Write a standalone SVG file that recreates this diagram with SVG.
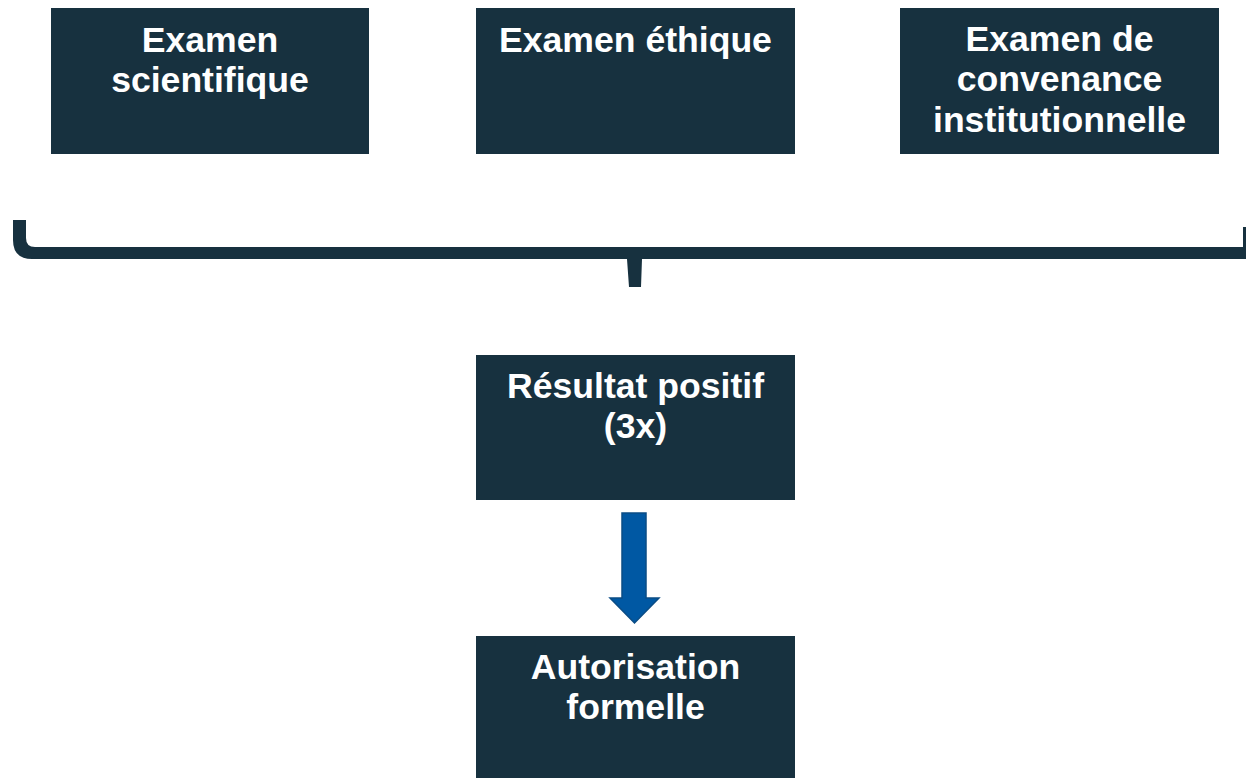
<svg xmlns="http://www.w3.org/2000/svg" width="1246" height="778" viewBox="0 0 1246 778">
<style>
.box{fill:#17313F}
.t{fill:#ffffff;font-family:"Liberation Sans",Arial,sans-serif;font-weight:bold;font-size:35.6px;text-anchor:middle}
</style>
<rect width="1246" height="778" fill="#ffffff"/>
<g id="n1"><rect class="box" x="51" y="8" width="318" height="146"/><text class="t" x="210" y="52">Examen</text><text class="t" x="210" y="92">scientifique</text></g>
<g id="n2"><rect class="box" x="476" y="8" width="319" height="146"/><text class="t" x="635.5" y="52">Examen éthique</text></g>
<g id="n3"><rect class="box" x="900" y="8" width="319" height="146"/><text class="t" x="1059.5" y="51">Examen de</text><text class="t" x="1059.5" y="91">convenance</text><text class="t" x="1059.5" y="132">institutionnelle</text></g>
<g id="n4"><rect class="box" x="476" y="355" width="319" height="145"/><text class="t" x="635.5" y="398">Résultat positif</text><text class="t" x="635.5" y="438">(3x)</text></g>
<g id="n5"><rect class="box" x="476" y="636" width="319" height="142"/><text class="t" x="635.5" y="679">Autorisation</text><text class="t" x="635.5" y="719">formelle</text></g>
<g id="connectors">
<path id="brace" fill="#17313F" d="M13,220 H26 V238 Q26,247 35,247 H1243 V227 H1246 V259 H642 L641,287 H629 L627,259 H32 Q13,259 13,240 Z"/>
<polygon id="arrow" fill="#0058A3" stroke="#0A4C85" stroke-width="1.5" stroke-linejoin="miter" points="622,513 646,513 646,598 659,598 634.5,623 610,598 622,598"/>
</g>
</svg>
